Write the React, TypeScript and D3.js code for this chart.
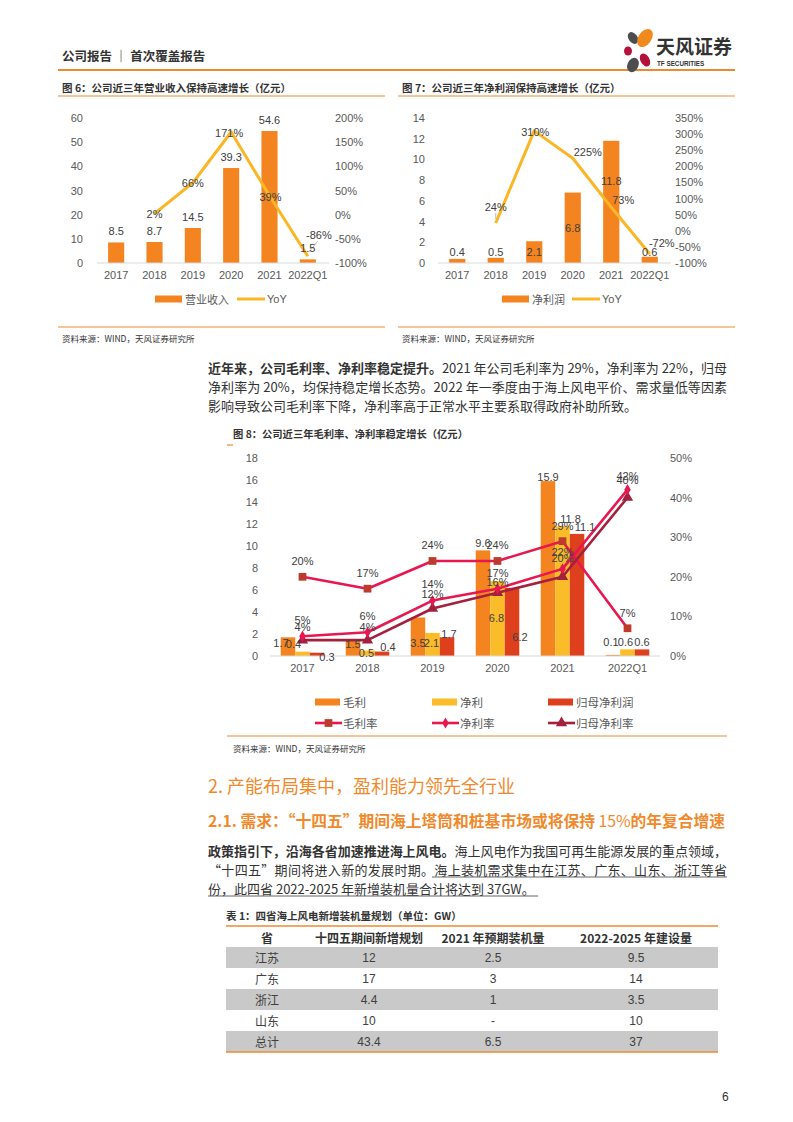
import * as d3 from "d3";

const LATIN = "'Liberation Sans', Arial, 'Noto Sans CJK SC', sans-serif";
const CJK = "'Noto Sans CJK SC', 'Liberation Sans', sans-serif";

// ---- data ----
const years = ["2017", "2018", "2019", "2020", "2021", "2022Q1"];

// fig 6: revenue (亿元) + yoy (%)
const revenue = [8.5, 8.7, 14.5, 39.3, 54.6, 1.5];
const revenueYoY: (number | null)[] = [null, 2, 66, 171, 39, -86];
const revenueTicks = [0, 10, 20, 30, 40, 50, 60];
const revenueYoYTicks = [-100, -50, 0, 50, 100, 150, 200];

// fig 7: net profit (亿元) + yoy (%)
const netProfit = [0.4, 0.5, 2.1, 6.8, 11.8, 0.6];
const netProfitYoY: (number | null)[] = [null, 24, 310, 225, 73, -72];
const profitTicks = [0, 2, 4, 6, 8, 10, 12, 14];
const profitYoYTicks = [-100, -50, 0, 50, 100, 150, 200, 250, 300, 350];

// fig 8
const grossProfit = [1.7, 1.5, 3.5, 9.6, 15.9, 0.1];
const parentNetProfit = [0.3, 0.4, 1.7, 6.2, 11.1, 0.6];
const grossMargin = [20, 17, 24, 24, 29, 7];
const netMargin = [5, 6, 14, 17, 22, 42];
const parentNetMargin = [4, 4, 12, 16, 20, 40];
const amountTicks = [0, 2, 4, 6, 8, 10, 12, 14, 16, 18];
const marginTicks = [0, 10, 20, 30, 40, 50];

// table 1
const tableHeaders = ["省", "十四五期间新增规划", "2021 年预期装机量", "2022-2025 年建设量"];
const provinces = ["江苏", "广东", "浙江", "山东", "总计"];
const plan145 = ["12", "17", "4.4", "10", "43.4"];
const expected2021 = ["2.5", "3", "1", "-", "6.5"];
const build2225 = ["9.5", "14", "3.5", "10", "37"];

// ---- colours ----
const ORANGE = "#F4841F";
const RULE = "#EE8A2E";
const YOY = "#FBB626";
const YELLOW = "#FBBC2A";
const RED = "#DE3F1C";
const PINK = "#E8174F";
const MAROON = "#A3203E";
const SQUARE = "#BE3A2C";
const AXIS_TXT = "#595959";
const LABEL = "#404040";
const BODY = "#333333";

// label nudges (px) for annotations
const fig6BarDy = [-11, -11, -11, -11, -11, -11];
const fig6YoYOff: [number, number][] = [[0, 0], [0, 0], [0, 0], [-2, 1], [1, 1], [11, -21]];
const fig7BarDy = [-7, -6, 11, 35, 40, -5];
const fig7YoYOff: [number, number][] = [[0, 0], [0, -16], [1, 1], [15, -6], [12, -7], [12, -11]];
const fig8BarOff: Record<string, [number, number][]> = {
  gross: [[-7, 6], [0, 4], [0, 25], [0, -7], [0, -4], [-2, -13]],
  net: [[-9, -8], [-1, 2], [-1, 10], [-1, 37], [8, -7], [-2, -7]],
  parent: [[10, 4], [6, -5], [2, -3], [8, 49], [8, -7], [0, -7]],
};
const fig8LineDy: Record<string, number[]> = {
  gm: [-16, -16, -16, -16, -15, -15],
  nm: [-16, -16, -17, -16, -17, -14],
  pm: [-13, -13, -14, -11, -19, -18],
};

type BarYoYProps = {
  title: string;
  left: number;
  right: number;
  x0: number;
  x1: number;
  values: number[];
  yoy: (number | null)[];
  lTicks: number[];
  rTicks: number[];
  lLabelX: number;
  rLabelX: number;
  barDy: number[];
  yoyOff: [number, number][];
  seriesName: string;
  legendRect: number;
  legendLine: number;
  leaders: number[];
};

function BarYoYChart(p: BarYoYProps) {
  const yTop = 118;
  const yBase = 263;
  const x = d3.scaleBand<string>().domain(years).range([p.x0, p.x1]).paddingInner(0.58).paddingOuter(0.29);
  const yL = d3.scaleLinear().domain(d3.extent(p.lTicks) as [number, number]).range([yBase, yTop]);
  const yR = d3.scaleLinear().domain(d3.extent(p.rTicks) as [number, number]).range([yBase, yTop]);
  const cx = (c: string) => (x(c) ?? 0) + x.bandwidth() / 2;
  const pts = years.map((c, i) => ({ c, v: p.yoy[i], i })).filter((d) => d.v !== null) as { c: string; v: number; i: number }[];
  const line = d3.line<{ c: string; v: number }>().x((d) => cx(d.c)).y((d) => yR(d.v));
  const fmtPct = (v: number) => `${v}%`;

  return (
    <g>
      <text x={p.left + 4} y={87} fontFamily={CJK} fontWeight="bold" fontSize={10.5} fill={BODY} dominantBaseline="central">
        {p.title}
      </text>
      <line x1={p.left} x2={p.right} y1={96} y2={96} stroke={RULE} strokeWidth={1.2} />

      {p.lTicks.map((t) => (
        <text key={"l" + t} x={p.lLabelX} y={yL(t)} textAnchor="end" dominantBaseline="central" fontFamily={LATIN} fontSize={11} fill={AXIS_TXT}>
          {t}
        </text>
      ))}
      {p.rTicks.map((t) => (
        <text key={"r" + t} x={p.rLabelX} y={yR(t)} dominantBaseline="central" fontFamily={LATIN} fontSize={11} fill={AXIS_TXT}>
          {fmtPct(t)}
        </text>
      ))}

      {years.map((c, i) => (
        <rect key={c} x={x(c)} y={yL(p.values[i])} width={x.bandwidth()} height={yBase - yL(p.values[i])} fill={ORANGE} />
      ))}
      <line x1={p.x0} x2={p.x1 + 2} y1={yBase} y2={yBase} stroke="#D9D9D9" strokeWidth={1} />

      {years.map((c) => (
        <text key={"x" + c} x={cx(c)} y={275} textAnchor="middle" dominantBaseline="central" fontFamily={LATIN} fontSize={11} fill={AXIS_TXT}>
          {c}
        </text>
      ))}

      <path d={line(pts) ?? ""} fill="none" stroke={YOY} strokeWidth={3} strokeLinejoin="round" />

      {p.leaders.map((i) => {
        const d = pts.find((q) => q.i === i)!;
        const [dx, dy] = p.yoyOff[i];
        return (
          <line key={"ld" + i} x1={cx(d.c) + (dx > 0 ? 1 : 0)} y1={yR(d.v) - 4} x2={cx(d.c) + dx * 0.9} y2={yR(d.v) + dy + 6} stroke="#A6A6A6" strokeWidth={0.8} />
        );
      })}

      {years.map((c, i) => (
        <text key={"bl" + c} x={cx(c)} y={yL(p.values[i]) + p.barDy[i]} textAnchor="middle" dominantBaseline="central" fontFamily={LATIN} fontSize={11} fill={LABEL}>
          {p.values[i]}
        </text>
      ))}
      {pts.map((d) => (
        <text key={"yl" + d.c} x={cx(d.c) + p.yoyOff[d.i][0]} y={yR(d.v) + p.yoyOff[d.i][1]} textAnchor="middle" dominantBaseline="central" fontFamily={LATIN} fontSize={11} fill={LABEL}>
          {fmtPct(d.v)}
        </text>
      ))}

      {/* legend */}
      <rect x={p.legendRect} y={295.5} width={27} height={7} fill={ORANGE} />
      <text x={p.legendRect + 30} y={299} dominantBaseline="central" fontFamily={CJK} fontSize={11} fill={AXIS_TXT}>
        {p.seriesName}
      </text>
      <line x1={p.legendLine} x2={p.legendLine + 28} y1={299} y2={299} stroke={YOY} strokeWidth={3} />
      <text x={p.legendLine + 30} y={299} dominantBaseline="central" fontFamily={LATIN} fontSize={11} fill={AXIS_TXT}>
        YoY
      </text>

      <line x1={p.left} x2={p.right} y1={327} y2={327} stroke={RULE} strokeWidth={1.2} />
      <text x={p.left + 4} y={338} dominantBaseline="central" fontFamily={CJK} fontSize={8.5} fill={BODY}>
        资料来源：WIND，天风证券研究所
      </text>
    </g>
  );
}

function Fig8() {
  const yBase = 656;
  const yTop = 458;
  const x = d3.scaleBand<string>().domain(years).range([270, 660]).paddingInner(0.33).paddingOuter(0.165);
  const barSeries = [
    { key: "gross", name: "毛利", values: grossProfit, color: ORANGE },
    { key: "net", name: "净利", values: netProfit, color: YELLOW },
    { key: "parent", name: "归母净利润", values: parentNetProfit, color: RED },
  ];
  const xs = d3.scaleBand<string>().domain(barSeries.map((s) => s.key)).range([0, x.bandwidth()]);
  const yL = d3.scaleLinear().domain([0, 18]).range([yBase, yTop]);
  const yR = d3.scaleLinear().domain([0, 50]).range([yBase, yTop]);
  const cx = (c: string) => (x(c) ?? 0) + x.bandwidth() / 2;

  const lineSeries = [
    { key: "gm", name: "毛利率", values: grossMargin, color: PINK, marker: d3.symbolSquare, mSize: 60, mColor: SQUARE },
    { key: "pm", name: "归母净利率", values: parentNetMargin, color: MAROON, marker: d3.symbolTriangle, mSize: 55, mColor: MAROON },
    { key: "nm", name: "净利率", values: netMargin, color: PINK, marker: d3.symbolDiamond, mSize: 36, mColor: PINK },
  ];
  const legendOrder = ["gm", "nm", "pm"];
  const legendX = [315, 432, 548];
  const line = d3.line<number>().x((_, i) => cx(years[i])).y((v) => yR(v));

  return (
    <g>
      <text x={233} y={433} fontFamily={CJK} fontWeight="bold" fontSize={10.3} fill={BODY} dominantBaseline="central">
        图 8：公司近三年毛利率、净利率稳定增长（亿元）
      </text>
      <line x1={227} x2={233} y1={445} y2={445} stroke={RULE} strokeWidth={1.2} />

      {amountTicks.map((t) => (
        <text key={"l" + t} x={258} y={yL(t)} textAnchor="end" dominantBaseline="central" fontFamily={LATIN} fontSize={11} fill={AXIS_TXT}>
          {t}
        </text>
      ))}
      {marginTicks.map((t) => (
        <text key={"r" + t} x={670} y={yR(t)} dominantBaseline="central" fontFamily={LATIN} fontSize={11} fill={AXIS_TXT}>
          {t}%
        </text>
      ))}

      {barSeries.map((s) =>
        years.map((c, i) => (
          <rect key={s.key + c} x={(x(c) ?? 0) + (xs(s.key) ?? 0)} y={yL(s.values[i])} width={xs.bandwidth()} height={yBase - yL(s.values[i])} fill={s.color} />
        ))
      )}
      <line x1={270} x2={660} y1={yBase} y2={yBase} stroke="#D9D9D9" strokeWidth={1} />

      {years.map((c) => (
        <text key={"x" + c} x={cx(c)} y={668} textAnchor="middle" dominantBaseline="central" fontFamily={LATIN} fontSize={11} fill={AXIS_TXT}>
          {c}
        </text>
      ))}

      {lineSeries.map((s) => (
        <g key={s.key}>
          <path d={line(s.values) ?? ""} fill="none" stroke={s.color} strokeWidth={2.6} strokeLinejoin="round" />
          {s.values.map((v, i) => (
            <path key={i} d={d3.symbol(s.marker, s.mSize)() ?? ""} transform={`translate(${cx(years[i])},${yR(v)})`} fill={s.mColor} />
          ))}
        </g>
      ))}

      {barSeries.map((s) =>
        years.map((c, i) => {
          const [dx, dy] = fig8BarOff[s.key][i];
          return (
            <text key={"bl" + s.key + c} x={(x(c) ?? 0) + (xs(s.key) ?? 0) + xs.bandwidth() / 2 + dx} y={yL(s.values[i]) + dy} textAnchor="middle" dominantBaseline="central" fontFamily={LATIN} fontSize={11} fill={LABEL}>
              {s.values[i]}
            </text>
          );
        })
      )}
      {lineSeries.map((s) =>
        s.values.map((v, i) => (
          <text key={"ll" + s.key + i} x={cx(years[i])} y={yR(v) + fig8LineDy[s.key][i]} textAnchor="middle" dominantBaseline="central" fontFamily={LATIN} fontSize={11} fill={LABEL}>
            {v}%
          </text>
        ))
      )}

      {/* legend */}
      {barSeries.map((s, k) => (
        <g key={"lg" + s.key}>
          <rect x={legendX[k]} y={698.5} width={25} height={7} fill={s.color} />
          <text x={legendX[k] + 28} y={702} dominantBaseline="central" fontFamily={CJK} fontSize={11.5} fill={AXIS_TXT}>
            {s.name}
          </text>
        </g>
      ))}
      {legendOrder.map((key, k) => {
        const s = lineSeries.find((q) => q.key === key)!;
        return (
          <g key={"ll" + key}>
            <line x1={legendX[k]} x2={legendX[k] + 27} y1={723} y2={723} stroke={s.color} strokeWidth={2.6} />
            <path d={d3.symbol(s.marker, s.mSize)() ?? ""} transform={`translate(${legendX[k] + 13.5},723)`} fill={s.mColor} />
            <text x={legendX[k] + 28} y={723} dominantBaseline="central" fontFamily={CJK} fontSize={11.5} fill={AXIS_TXT}>
              {s.name}
            </text>
          </g>
        );
      })}

      <line x1={227} x2={727} y1={736} y2={736} stroke={RULE} strokeWidth={1.2} />
      <text x={233} y={748} dominantBaseline="central" fontFamily={CJK} fontSize={8.5} fill={BODY}>
        资料来源：WIND，天风证券研究所
      </text>
    </g>
  );
}

function Header() {
  return (
    <g>
      <text x={62} y={55} dominantBaseline="central" fontFamily={CJK} fontWeight="bold" fontSize={12.5} fill={BODY}>
        公司报告 ｜ 首次覆盖报告
      </text>
      <line x1={58} x2={735} y1={70} y2={70} stroke={RULE} strokeWidth={2} />
      <ellipse cx={633} cy={38} rx={4.5} ry={6.5} transform="rotate(-35 633 38)" fill="#4D4D4D" />
      <ellipse cx={645} cy={38} rx={6.5} ry={10} transform="rotate(35 645 38)" fill="#F08A1D" />
      <ellipse cx={628} cy={51} rx={4} ry={4.5} fill="#B5123B" />
      <ellipse cx={645} cy={60} rx={4.5} ry={7} transform="rotate(-30 645 60)" fill="#B5123B" />
      <ellipse cx={633} cy={65} rx={5.5} ry={7.5} transform="rotate(25 633 65)" fill="#4D4D4D" />
      <text x={656} y={54} fontFamily={CJK} fontWeight="bold" fontSize={19} fill="#333">
        天风证券
      </text>
      <text x={657} y={66} fontFamily={LATIN} fontWeight="bold" fontSize={6.3} fill="#333">
        TF SECURITIES
      </text>
    </g>
  );
}

function Body() {
  const W = 519;
  return (
    <g fontFamily={CJK} fill={BODY} fontSize={13}>
      <text x={208} y={367} dominantBaseline="central" textLength={W} lengthAdjust="spacing">
        <tspan fontWeight="bold">近年来，公司毛利率、净利率稳定提升。</tspan>
        <tspan>2021 年公司毛利率为 29%，净利率为 22%，归母</tspan>
      </text>
      <text x={208} y={386} dominantBaseline="central" textLength={W} lengthAdjust="spacing">
        净利率为 20%，均保持稳定增长态势。2022 年一季度由于海上风电平价、需求量低等因素
      </text>
      <text x={208} y={405} dominantBaseline="central">
        影响导致公司毛利率下降，净利率高于正常水平主要系取得政府补助所致。
      </text>

      <text x={208} y={785} dominantBaseline="central" fontSize={18} fill="#F0892B">
        2. 产能布局集中，盈利能力领先全行业
      </text>
      <text x={208} y={820} dominantBaseline="central" fontSize={15.5} fontWeight="bold" fill="#F0892B" textLength={517} lengthAdjust="spacingAndGlyphs">
        2.1. 需求：“十四五”期间海上塔筒和桩基市场或将保持<tspan fontWeight="normal"> 15%</tspan>的年复合增速
      </text>

      <text x={208} y={850} dominantBaseline="central" textLength={W} lengthAdjust="spacing">
        <tspan fontWeight="bold">政策指引下，沿海各省加速推进海上风电。</tspan>
        <tspan>海上风电作为我国可再生能源发展的重点领域，</tspan>
      </text>
      <text x={208} y={869} dominantBaseline="central" textLength={W} lengthAdjust="spacing">
        “十四五”期间将进入新的发展时期。海上装机需求集中在江苏、广东、山东、浙江等省
      </text>
      <line x1={432} x2={727} y1={877} y2={877} stroke="#555" strokeWidth={0.9} />
      <text x={208} y={888} dominantBaseline="central">
        份，此四省 2022-2025 年新增装机量合计将达到 37GW。
      </text>
      <line x1={208} x2={538} y1={896} y2={896} stroke="#555" strokeWidth={0.9} />

      <text x={722} y={1097} dominantBaseline="central" fontFamily={LATIN} fontSize={12} fill="#333">
        6
      </text>
    </g>
  );
}

function Table() {
  const left = 226;
  const right = 718;
  const colX = [267, 369, 493, 636];
  const rowY = d3.scaleBand<string>().domain(provinces).range([947, 1052]);
  const cols = [provinces, plan145, expected2021, build2225];
  return (
    <g fontFamily={CJK}>
      <text x={226} y={915} dominantBaseline="central" fontWeight="bold" fontSize={10.5} fill={BODY}>
        表 1：四省海上风电新增装机量规划（单位：GW）
      </text>
      <line x1={left} x2={right} y1={926} y2={926} stroke={RULE} strokeWidth={1.3} />
      {tableHeaders.map((h, j) => (
        <text key={h} x={colX[j]} y={937} textAnchor="middle" dominantBaseline="central" fontWeight="bold" fontSize={12} fill={BODY}>
          {h}
        </text>
      ))}
      {provinces.map((p, i) => (
        <g key={p}>
          {i % 2 === 0 && <rect x={left} y={rowY(p)} width={right - left} height={rowY.bandwidth()} fill="#C9C9C9" />}
          {cols.map((col, j) => (
            <text key={j} x={colX[j]} y={(rowY(p) ?? 0) + rowY.bandwidth() / 2} textAnchor="middle" dominantBaseline="central" fontSize={12} fill={LABEL} fontFamily={j === 0 ? CJK : LATIN}>
              {col[i]}
            </text>
          ))}
        </g>
      ))}
      <line x1={left} x2={right} y1={1052} y2={1052} stroke={RULE} strokeWidth={1.3} />
    </g>
  );
}

export default function App() {
  return (
    <svg width={793} height={1122} viewBox="0 0 793 1122" style={{ position: "absolute", left: 0, top: 0, background: "#fff" }}>
      <rect width={793} height={1122} fill="#fff" />
      <Header />
      <BarYoYChart
        title="图 6：公司近三年营业收入保持高速增长（亿元）"
        left={58}
        right={385}
        x0={97}
        x1={327}
        values={revenue}
        yoy={revenueYoY}
        lTicks={revenueTicks}
        rTicks={revenueYoYTicks}
        lLabelX={83}
        rLabelX={335}
        barDy={fig6BarDy}
        yoyOff={fig6YoYOff}
        seriesName="营业收入"
        legendRect={155}
        legendLine={237}
        leaders={[5]}
      />
      <BarYoYChart
        title="图 7：公司近三年净利润保持高速增长（亿元）"
        left={398}
        right={735}
        x0={438}
        x1={669}
        values={netProfit}
        yoy={netProfitYoY}
        lTicks={profitTicks}
        rTicks={profitYoYTicks}
        lLabelX={425}
        rLabelX={675}
        barDy={fig7BarDy}
        yoyOff={fig7YoYOff}
        seriesName="净利润"
        legendRect={502}
        legendLine={572}
        leaders={[1]}
      />
      <Body />
      <Fig8 />
      <Table />
    </svg>
  );
}
